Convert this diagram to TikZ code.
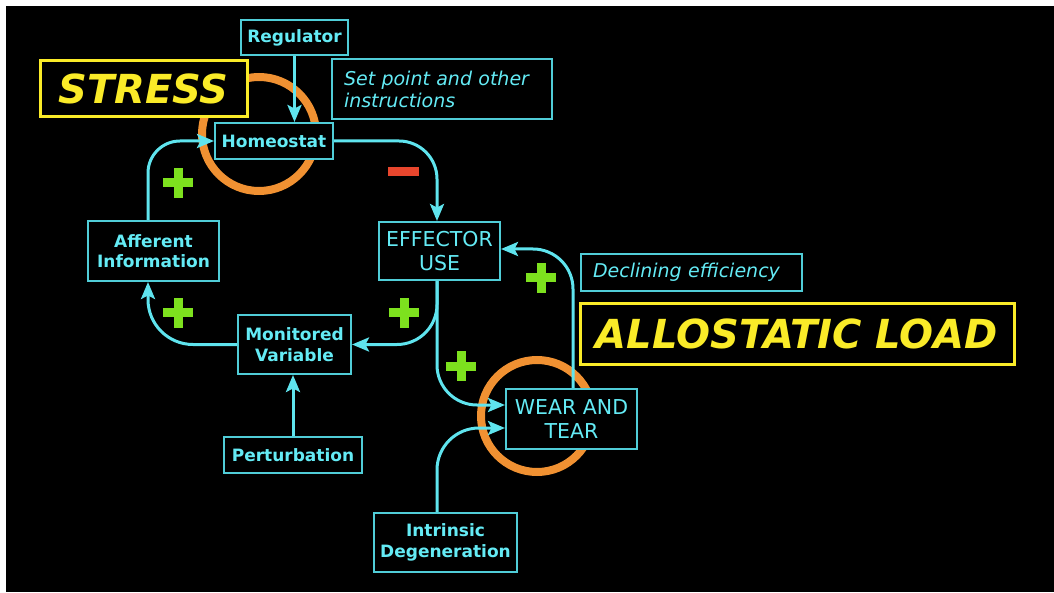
\documentclass[tikz,border=0pt]{standalone}
\usepackage{fontspec}
\setmainfont{DejaVu Sans}
\usetikzlibrary{arrows.meta}
\definecolor{cyanT}{RGB}{100,235,245}
\definecolor{cyanB}{RGB}{80,205,215}
\definecolor{cyanL}{RGB}{95,228,238}
\definecolor{yel}{RGB}{250,235,40}
\definecolor{orng}{RGB}{240,145,50}
\definecolor{grn}{RGB}{125,225,30}
\definecolor{rd}{RGB}{232,70,45}
\begin{document}
\begin{tikzpicture}[x=1pt,y=-1pt,
  box/.style={draw=cyanB, line width=2pt, fill=black, text=cyanT, inner sep=0pt, align=center,
    font=\fontsize{17}{20.5}\selectfont\bfseries},
  bigbox/.style={box, font=\fontsize{20.5}{24}\selectfont},
  notebox/.style={box, align=left, inner xsep=12pt, font=\fontsize{19}{22}\selectfont\itshape},
  yelbox/.style={draw=yel, line width=3pt, fill=black, text=yel, inner sep=0pt,
    font=\fontsize{40}{44}\selectfont\bfseries\itshape},
  ring/.style={draw=orng, line width=8pt},
  conn/.style={draw=cyanL, line width=3pt, -{Stealth[length=17pt,width=14pt,inset=3.5pt]}},
  plussign/.style={minimum size=30pt, inner sep=0pt,
    path picture={\fill[grn] ([xshift=-15pt,yshift=-4.5pt]path picture bounding box.center) rectangle ++(30pt,9pt);
                  \fill[grn] ([xshift=-4.5pt,yshift=-15pt]path picture bounding box.center) rectangle ++(9pt,30pt);}},
  minussign/.style={fill=rd, minimum width=31pt, minimum height=9pt, inner sep=0pt}
]
\fill[white] (0,0) rectangle (1054,593);
\fill[black] (6,6) rectangle (1054,592);
\useasboundingbox (0,0) rectangle (1054,593);

% orange rings
\draw[ring] (259,134) circle (57);
\draw[ring] (537,416) circle (56);

% boxes
\node[yelbox, minimum width=207pt, minimum height=56pt] (stress) at (143.5,89) {STRESS};
\node[box, minimum width=107pt, minimum height=35pt] (regulator) at (294.5,37.5) {Regulator};
\node[box, minimum width=118pt, minimum height=36pt] (homeo) at (274,141) {Homeostat};
\node[notebox, text width=196pt, minimum height=60pt] (setpoint) at (442,89) {Set point and other\\instructions};
\node[bigbox, minimum width=121pt, minimum height=58pt] (effector) at (439.5,251) {EFFECTOR\\USE};
\node[box, minimum width=131pt, minimum height=60pt] (afferent) at (153.5,251) {Afferent\\Information};
\node[box, minimum width=113pt, minimum height=59pt] (monitored) at (294.5,344.5) {Monitored\\Variable};
\node[box, minimum width=138pt, minimum height=36pt] (perturbation) at (293,455) {Perturbation};
\node[bigbox, minimum width=131pt, minimum height=60pt] (wear) at (571.5,419) {WEAR AND\\TEAR};
\node[box, minimum width=143pt, minimum height=59pt] (intrinsic) at (445.5,542.5) {Intrinsic\\Degeneration};
\node[notebox, text width=197pt, minimum height=37pt] (declining) at (691.5,272.5) {Declining efficiency};
\node[yelbox, minimum width=434pt, minimum height=60pt, font=\fontsize{40}{44}\selectfont\bfseries\itshape] (allostatic) at (797,334) {ALLOSTATIC LOAD};

% connectors
\draw[conn] (regulator.south) -- (regulator.south |- homeo.north);
\draw[conn] (perturbation.north) -- (perturbation.north |- monitored.south);
\draw[conn, rounded corners=38pt] (homeo.east) -| ([xshift=-2.5pt]effector.north);
\draw[conn, rounded corners=32pt] ([xshift=-5.5pt]afferent.north) |- (homeo.west);
\draw[conn, rounded corners=45pt] (monitored.west) -| ([xshift=-5.5pt]afferent.south);
\draw[conn, rounded corners=40pt] ([xshift=-2.5pt]effector.south) |- (monitored.east);
\draw[conn, rounded corners=40pt] ([xshift=-2.5pt]effector.south) |- ([yshift=14pt]wear.west);
\draw[conn, rounded corners=42pt] ([xshift=-8.5pt]intrinsic.north) |- ([yshift=-9pt]wear.west);
\draw[conn, rounded corners=40pt] ([xshift=1.5pt]wear.north) |- ([yshift=2pt]effector.east);

% signs
\node[minussign] (minus) at (403.5,171.5) {};
\node[plussign] (plus1) at (178,183) {};
\node[plussign] (plus2) at (178,313) {};
\node[plussign] (plus3) at (404,313) {};
\node[plussign] (plus4) at (461,366) {};
\node[plussign] (plus5) at (541,278) {};
\end{tikzpicture}
\end{document}
